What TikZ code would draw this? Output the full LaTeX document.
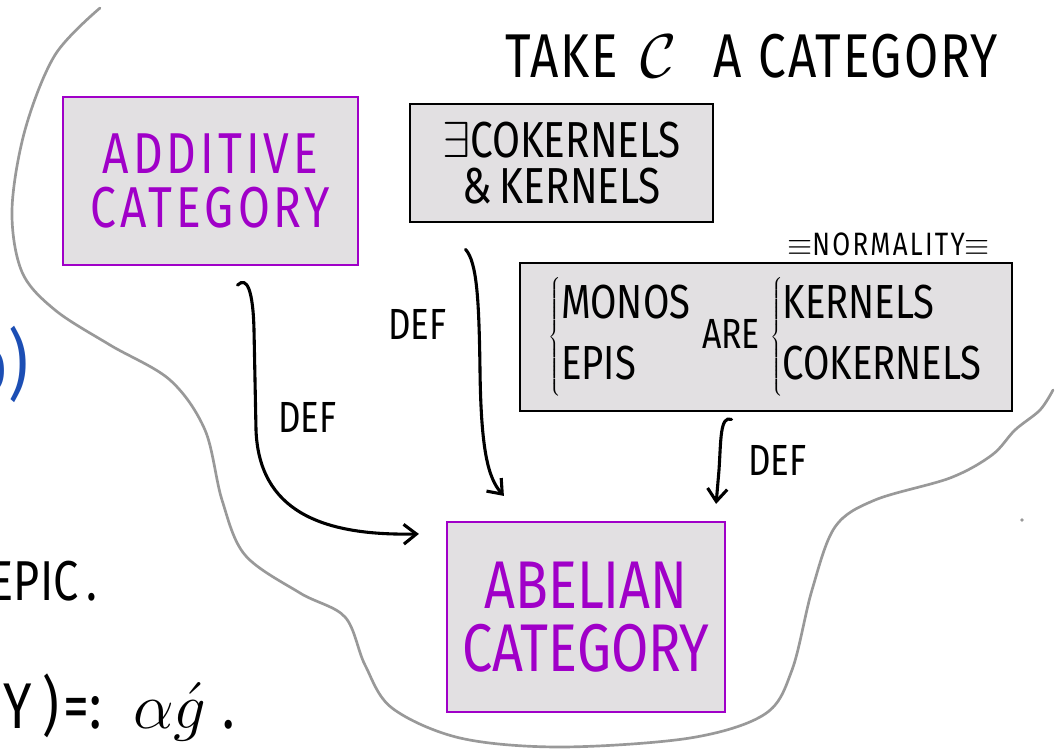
\RequirePackage{fix-cm}
\documentclass[tikz,border=0pt]{standalone}
\usepackage{fontspec}
\newfontfamily\hand[FakeStretch=0.8]{Fira Sans}
\newfontfamily\handmid[FakeStretch=0.8,LetterSpace=3]{Fira Sans}
\newfontfamily\handwide[FakeStretch=0.8,LetterSpace=7]{Fira Sans}
\usetikzlibrary{calc}
\usetikzlibrary{arrows.meta}
\definecolor{boxgray}{RGB}{226,224,226}
\definecolor{catpurple}{RGB}{160,0,200}
\definecolor{blobgray}{RGB}{153,153,153}
\definecolor{inkblue}{RGB}{28,78,180}
\tikzset{purplebox/.style={draw=catpurple,fill=boxgray,line width=1.5pt,text=catpurple,align=center,inner sep=0pt}}
\tikzset{blackbox/.style={draw=black,fill=boxgray,line width=2pt,align=center,inner sep=0pt}}
\tikzset{deflabel/.style={anchor=base west,inner sep=0pt,font=\hand\fontsize{31}{31}\selectfont}}
\tikzset{defarrow/.style={line width=2.2pt,line cap=round,-{Straight Barb[length=9pt,width=14pt,line width=2.2pt]}}}
\tikzset{blob/.style={draw=blobgray,line width=1.9pt,line cap=round}}

\begin{document}
\begin{tikzpicture}[x=0.025cm,y=-0.025cm]
\fill[white] (0,0) rectangle (1057,753);
\useasboundingbox (0,0) rectangle (1057,753);

% the region holding the category
\draw[blob] plot[smooth,tension=0.55] coordinates {(100,8) (55,55) (25,130) (12,210) (22,272) (55,310) (110,345) (170,380) (205,430) (222,500) (245,555) (300,593) (345,617) (365,665) (392,708) (460,738) (560,747) (690,738) (765,714) (792,670) (812,590) (835,527) (875,500) (950,478) (992,455) (1015,430) (1040,410) (1053,390)};
\fill[blobgray] (1022,520) circle (1.3pt);

% fragments of the neighbouring notes
\node[anchor=base east,inner sep=0pt,text=inkblue,font=\hand\fontsize{55}{55}\selectfont] (blue) at (29,392) {b)};
\node[anchor=base east,inner sep=0pt,font=\hand\fontsize{40}{40}\selectfont] (epic) at (98,600) {EPIC\hspace{6pt}.};
\node[anchor=base west,inner sep=0pt,font=\hand\fontsize{46}{46}\selectfont] (alpha) at (3,728)
  {Y\hspace{8pt})\hspace{3pt}=:\hspace{22pt}$\alpha\acute{g}$\hspace{11pt}.};

\node[anchor=base west,inner sep=0pt,font=\handmid\fontsize{44}{44}\selectfont] (title) at (505,78)
  {TAKE\hspace{16pt}$\mathcal{C}$\hspace{26pt}A\hspace{12pt}CATEGORY};

% the boxes
\node[purplebox,minimum width=7.375cm,minimum height=4.2cm,font=\handwide\fontsize{41}{39}\selectfont] (additive) at (210.5,181) {ADDITIVE\\CATEGORY};
\node[blackbox,minimum width=7.575cm,minimum height=2.95cm,font=\hand\fontsize{36}{33}\selectfont] (kernels) at (561.5,163) {$\exists$COKERNELS\\\&\,KERNELS};
\node[blackbox,minimum width=12.3cm,minimum height=3.7cm,font=\hand\fontsize{34}{43}\selectfont] (normality) at (766,337)
  {$\left\{\begin{tabular}{@{}l@{}}MONOS\\EPIS\end{tabular}\right.$\ {\fontsize{30}{30}\selectfont ARE}\ $\left\{\begin{tabular}{@{}l@{}}KERNELS\\COKERNELS\end{tabular}\right.$};
\node[purplebox,minimum width=6.95cm,minimum height=4.75cm,font=\hand\fontsize{48}{45}\selectfont] (abelian) at (586,617) {ABELIAN\\CATEGORY};
\node[anchor=base west,inner sep=0pt,font=\handwide\fontsize{23}{23}\selectfont] (normlabel) at (787,256) {$\equiv$NORMALITY$\equiv$};

% the three definitions
\coordinate (a1) at ($(additive.south)+(27,19)$);
\coordinate (e1) at ($(abelian.north west)+(-27,13)$);
\coordinate (a2) at ($(kernels.south west)+(57,26)$);
\coordinate (e2) at ($(abelian.north west)+(58,-25)$);
\coordinate (a3) at ($(normality.south west)+(213,7)$);
\coordinate (e3) at ($(abelian.north east)+(-10,-17)$);
\draw[defarrow] (a1) .. controls (247,276) and (253,290) .. (254,330) -- (256,430) .. controls (259,510) and (320,536) .. (e1);
\draw[defarrow] (a2) .. controls (477,262) and (479,300) .. (480,370) .. controls (481,450) and (488,478) .. (e2);
\draw[defarrow] (a3) .. controls (720,415) and (721,440) .. (719,470) -- (e3);
\node[deflabel] (def1) at (278,433) {DEF};
\node[deflabel] (def2) at (388,340) {DEF};
\node[deflabel] (def3) at (748,475) {DEF};
\end{tikzpicture}
\end{document}
